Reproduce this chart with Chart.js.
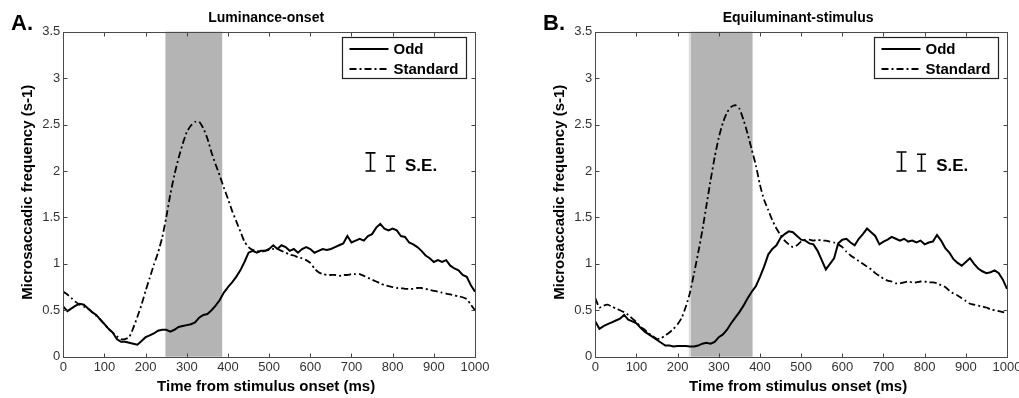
<!DOCTYPE html>
<html><head><meta charset="utf-8">
<script src="https://cdn.jsdelivr.net/npm/chart.js@4.4.1/dist/chart.umd.min.js"></script>
<style>
html,body{margin:0;padding:0;background:#fff;}
#wrap{position:relative;width:1019px;height:398px;overflow:hidden;background:#fff;}
.pane{position:absolute;top:0;height:398px;}
</style></head><body>
<div id="wrap">
<div class="pane" style="left:0;width:500px"><canvas id="cA" width="500" height="398"></canvas></div>
<div class="pane" style="left:532px;width:487px"><canvas id="cB" width="487" height="398"></canvas></div>
</div>
<script>
// ---- data ----
const timesMs = [0,10,20,30,40,50,60,70,80,90,100,110,120,130,140,150,160,170,180,190,200,210,220,230,240,250,260,270,280,290,300,310,320,330,340,350,360,370,380,390,400,410,420,430,440,450,460,470,480,490,500,510,520,530,540,550,560,570,580,590,600,610,620,630,640,650,660,670,680,690,700,710,720,730,740,750,760,770,780,790,800,810,820,830,840,850,860,870,880,890,900,910,920,930,940,950,960,970,980,990,1000];

const lumOdd = [0.54,0.49,0.52,0.55,0.57,0.56,0.52,0.48,0.45,0.40,0.35,0.30,0.26,0.19,0.16,0.16,0.15,0.14,0.13,0.17,0.21,0.23,0.25,0.28,0.29,0.29,0.27,0.29,0.32,0.33,0.34,0.35,0.37,0.42,0.45,0.46,0.50,0.55,0.61,0.69,0.75,0.80,0.86,0.93,1.02,1.12,1.14,1.12,1.14,1.14,1.16,1.20,1.16,1.20,1.18,1.14,1.16,1.12,1.16,1.18,1.16,1.12,1.14,1.16,1.15,1.16,1.18,1.20,1.22,1.30,1.23,1.25,1.27,1.25,1.30,1.32,1.39,1.43,1.38,1.36,1.38,1.36,1.30,1.29,1.23,1.21,1.18,1.14,1.09,1.06,1.02,1.04,1.02,1.04,0.98,0.95,0.93,0.88,0.86,0.77,0.70];
const lumStd = [0.70,0.67,0.63,0.59,0.56,0.54,0.52,0.48,0.44,0.40,0.35,0.30,0.26,0.22,0.19,0.19,0.21,0.31,0.43,0.56,0.71,0.85,0.99,1.12,1.28,1.50,1.75,1.96,2.14,2.29,2.42,2.49,2.53,2.53,2.46,2.35,2.20,2.07,1.95,1.82,1.70,1.57,1.46,1.35,1.24,1.18,1.15,1.14,1.13,1.14,1.15,1.16,1.16,1.14,1.12,1.10,1.09,1.07,1.06,1.04,1.01,0.95,0.91,0.89,0.88,0.88,0.88,0.87,0.88,0.88,0.89,0.89,0.89,0.87,0.85,0.83,0.81,0.79,0.77,0.76,0.75,0.74,0.74,0.73,0.73,0.73,0.74,0.74,0.73,0.72,0.71,0.70,0.69,0.68,0.67,0.66,0.65,0.64,0.62,0.56,0.50];

const equOdd = [0.38,0.30,0.33,0.35,0.37,0.39,0.41,0.45,0.40,0.38,0.36,0.31,0.27,0.24,0.21,0.18,0.15,0.12,0.12,0.11,0.115,0.115,0.115,0.11,0.11,0.12,0.14,0.15,0.14,0.16,0.21,0.24,0.29,0.36,0.42,0.48,0.55,0.63,0.70,0.76,0.86,0.97,1.10,1.16,1.20,1.28,1.32,1.35,1.34,1.30,1.26,1.25,1.22,1.21,1.14,1.04,0.94,1.00,1.06,1.22,1.26,1.27,1.23,1.20,1.27,1.32,1.38,1.34,1.30,1.21,1.24,1.26,1.29,1.27,1.25,1.27,1.24,1.25,1.23,1.25,1.21,1.23,1.24,1.31,1.25,1.17,1.12,1.05,1.01,0.98,1.02,1.06,1.00,0.95,0.92,0.90,0.91,0.93,0.90,0.83,0.73];
const equStd = [0.63,0.53,0.55,0.56,0.54,0.52,0.50,0.48,0.45,0.41,0.37,0.32,0.29,0.25,0.22,0.19,0.20,0.23,0.26,0.30,0.35,0.42,0.54,0.69,0.90,1.12,1.36,1.63,1.90,2.15,2.36,2.52,2.63,2.69,2.71,2.67,2.55,2.40,2.23,2.06,1.85,1.69,1.58,1.47,1.38,1.31,1.25,1.21,1.18,1.20,1.24,1.26,1.26,1.25,1.26,1.25,1.25,1.24,1.23,1.21,1.18,1.13,1.09,1.06,1.03,1.00,0.97,0.94,0.90,0.87,0.84,0.82,0.81,0.79,0.79,0.80,0.81,0.80,0.80,0.81,0.81,0.80,0.80,0.79,0.77,0.75,0.71,0.68,0.66,0.63,0.60,0.57,0.56,0.55,0.54,0.53,0.51,0.50,0.49,0.48,0.47];

const xTickLabels = ['0','100','200','300','400','500','600','700','800','900','1000'];
const yTickLabels = ['0','0.5','1','1.5','2','2.5','3','3.5'];
const seriesNames = ['Odd','Standard'];
const panelTitles = ['Luminance-onset','Equiluminant-stimulus'];
const panelLetters = ['A.','B.'];
const shadeLum = [248, 386];
const shadeEqu = [232, 382];
const seLum = [0.195, 0.16];
const seEqu = [0.205, 0.18];
const xAxisTitle = 'Time from stimulus onset (ms)';
const yAxisTitle = 'Microsaccadic frequency (s-1)';

const FONT = "'Liberation Sans', Arial, sans-serif";

const decor = {
  id: 'decor',
  beforeDatasetsDraw(chart, args, o) {
    const {ctx, chartArea: a, scales: {x}} = chart;
    ctx.save();
    const x0 = x.getPixelForValue(o.shade[0]), x1 = x.getPixelForValue(o.shade[1]);
    ctx.fillStyle = '#b4b4b4';
    ctx.fillRect(x0, a.top, x1 - x0, a.bottom - a.top);
    if (o.edge) {
      ctx.fillStyle = '#dadada';
      ctx.fillRect(x0 - 2, a.top, 2, a.bottom - a.top);
    }
    ctx.restore();
  },
  afterDatasetsDraw(chart, args, o) {
    const {ctx, chartArea: a, scales: {x, y}} = chart;
    ctx.save();
    const L = Math.round(a.left) + 0.5, R = Math.round(a.right) + 0.5;
    const T = Math.round(a.top) + 0.5, B = Math.round(a.bottom) + 0.5;
    // ticks
    ctx.strokeStyle = '#444'; ctx.lineWidth = 1;
    ctx.beginPath();
    x.ticks.forEach(t => {
      const px = Math.round(x.getPixelForValue(t.value)) + 0.5;
      ctx.moveTo(px, B); ctx.lineTo(px, B - 4);
      ctx.moveTo(px, T); ctx.lineTo(px, T + 4);
    });
    y.ticks.forEach(t => {
      const py = Math.round(y.getPixelForValue(t.value)) + 0.5;
      ctx.moveTo(L, py); ctx.lineTo(L + 4, py);
      ctx.moveTo(R, py); ctx.lineTo(R - 4, py);
    });
    ctx.stroke();
    // frame
    ctx.strokeStyle = '#4a4a4a';
    ctx.strokeRect(L, T, R - L, B - T);

    // legend
    const lw = 124, lh = 41;
    const lx = Math.round(a.right - 9 - lw) + 0.5, ly = Math.round(a.top + 5) + 0.5;
    ctx.fillStyle = '#fff';
    ctx.fillRect(lx, ly, lw, lh);
    ctx.strokeStyle = '#222'; ctx.lineWidth = 1.2;
    ctx.strokeRect(lx, ly, lw, lh);
    ctx.strokeStyle = '#000';
    ctx.lineWidth = 2; ctx.setLineDash([]);
    ctx.beginPath(); ctx.moveTo(lx + 7, ly + 11.5); ctx.lineTo(lx + 46, ly + 11.5); ctx.stroke();
    ctx.lineWidth = 1.8; ctx.setLineDash([7, 3, 2, 3]);
    ctx.beginPath(); ctx.moveTo(lx + 7, ly + 31.5); ctx.lineTo(lx + 46, ly + 31.5); ctx.stroke();
    ctx.setLineDash([]);
    ctx.fillStyle = '#000';
    ctx.font = 'bold 15px ' + FONT;
    ctx.textAlign = 'left'; ctx.textBaseline = 'middle';
    ctx.fillText(seriesNames[0], lx + 51, ly + 12);
    ctx.fillText(seriesNames[1], lx + 51, ly + 32);

    // S.E. bars
    ctx.strokeStyle = '#000'; ctx.lineWidth = 1.6;
    const base = y.getPixelForValue(2.0);
    o.seX.forEach((sx, i) => {
      const px = Math.round(x.getPixelForValue(sx)) + 0.5;
      const top = y.getPixelForValue(2.0 + o.se[i]);
      const hw = i === 0 ? 5 : 4.5;
      ctx.beginPath();
      ctx.moveTo(px - hw, top); ctx.lineTo(px + hw, top);
      ctx.moveTo(px, top); ctx.lineTo(px, base);
      ctx.moveTo(px - hw, base); ctx.lineTo(px + hw, base);
      ctx.stroke();
    });
    ctx.font = 'bold 17px ' + FONT;
    ctx.textBaseline = 'alphabetic';
    ctx.fillText('S.E.', x.getPixelForValue(o.seTextX), base + 0.5);

    // texts
    const cx = (a.left + a.right) / 2 - 3;
    ctx.font = 'bold 14px ' + FONT;
    ctx.textAlign = 'center'; ctx.textBaseline = 'alphabetic';
    ctx.fillText(o.title, cx, 22);
    ctx.font = 'bold 22px ' + FONT;
    ctx.textAlign = 'left';
    ctx.fillText(o.letter, 11, 30);
    ctx.font = 'bold 15px ' + FONT;
    ctx.textAlign = 'center'; ctx.textBaseline = 'middle';
    ctx.fillText(xAxisTitle, cx, 387);
    ctx.save();
    ctx.translate(28, (a.top + a.bottom) / 2 - 2);
    ctx.rotate(-Math.PI / 2);
    ctx.fillText(yAxisTitle, 0, 0);
    ctx.restore();
    ctx.restore();
  }
};

function makeChart(id, odd, std, padRight, opts) {
  return new Chart(document.getElementById(id), {
    type: 'line',
    data: {
      datasets: [
        {label: seriesNames[0], data: timesMs.map((t, i) => ({x: t, y: odd[i]})),
         borderColor: '#000', borderWidth: 2, pointRadius: 0, tension: 0, fill: false, order: 1},
        {label: seriesNames[1], data: timesMs.map((t, i) => ({x: t, y: std[i]})),
         borderColor: '#000', borderWidth: 1.8, borderDash: [7, 3, 2, 3], pointRadius: 0, tension: 0.2, fill: false, order: 2}
      ]
    },
    options: {
      responsive: false, animation: false, events: [],
      layout: {padding: {left: 0, right: padRight, top: 31.7, bottom: 0}},
      plugins: {legend: {display: false}, title: {display: false}, tooltip: {enabled: false}, decor: opts},
      scales: {
        x: {type: 'linear', min: 0, max: 1000,
            grid: {display: false, drawTicks: false}, border: {display: false},
            ticks: {stepSize: 100, autoSkip: false, maxRotation: 0, padding: 3, color: '#333',
                    font: {family: FONT, size: 13}, callback: (v, i) => xTickLabels[i]},
            afterFit(s) { s.height = 41.3; s.paddingLeft = 0; s.paddingRight = 0; }},
        y: {type: 'linear', min: 0, max: 3.5,
            grid: {display: false, drawTicks: false}, border: {display: false},
            ticks: {stepSize: 0.5, padding: 3, color: '#333',
                    font: {family: FONT, size: 13}, callback: (v, i) => yTickLabels[i]},
            afterFit(s) { s.width = 63.3; s.paddingTop = 0; s.paddingBottom = 0; }}
      }
    },
    plugins: [decor]
  });
}

makeChart('cA', lumOdd, lumStd, 25, {shade: shadeLum, edge: false, se: seLum, seX: [745, 794], seTextX: 830, title: panelTitles[0], letter: panelLetters[0]});
makeChart('cB', equOdd, equStd, 12, {shade: shadeEqu, edge: true, se: seEqu, seX: [743, 792], seTextX: 828, title: panelTitles[1], letter: panelLetters[1]});
</script>
</body></html>
